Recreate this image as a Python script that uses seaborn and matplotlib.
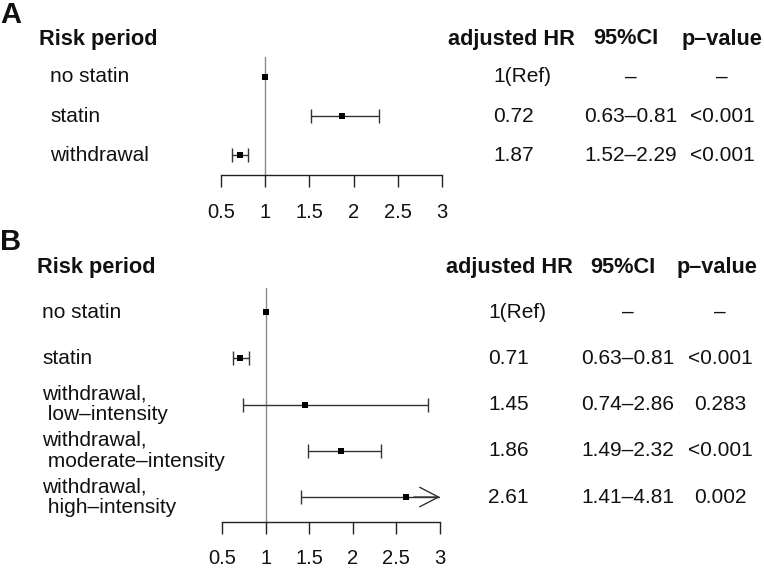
import numpy as np
import pandas as pd
import matplotlib
matplotlib.use("Agg")
import matplotlib.pyplot as plt
import seaborn as sns
from matplotlib.transforms import blended_transform_factory

# ---------------- data ----------------
# Panel A (values as drawn in the picture)
labels_a = ["no statin", "statin", "withdrawal"]
est_a = [1.00, 1.87, 0.72]
lo_a = [np.nan, 1.52, 0.63]
hi_a = [np.nan, 2.29, 0.81]
hr_a = ["1(Ref)", "0.72", "1.87"]
ci_a = ["–", "0.63–0.81", "1.52–2.29"]
p_a = ["–", "<0.001", "<0.001"]

# Panel B
labels_b = ["no statin", "statin",
            "withdrawal,\n low–intensity",
            "withdrawal,\n moderate–intensity",
            "withdrawal,\n high–intensity"]
est_b = [1.00, 0.71, 1.45, 1.86, 2.61]
lo_b = [np.nan, 0.63, 0.74, 1.49, 1.41]
hi_b = [np.nan, 0.81, 2.86, 2.32, 4.81]
hr_b = ["1(Ref)", "0.71", "1.45", "1.86", "2.61"]
ci_b = ["–", "0.63–0.81", "0.74–2.86", "1.49–2.32", "1.41–4.81"]
p_b = ["–", "<0.001", "0.283", "<0.001", "0.002"]

tick_vals = [0.5, 1, 1.5, 2, 2.5, 3]
tick_labels = ["0.5", "1", "1.5", "2", "2.5", "3"]
headers = ["Risk period", "adjusted HR", "95%CI", "p–value"]

# ---------------- style ----------------
sns.set_theme(style="white")
plt.rcParams["font.family"] = ["Liberation Sans", "DejaVu Sans"]

W, H = 764, 569
fig = plt.figure(figsize=(W / 100, H / 100), dpi=100)

XMIN, XMAX = 0.5, 3.0
FS = 15
HFS = 15.7


def add_axes_px(x0, ytop, x1, ybot):
    return fig.add_axes([x0 / W, 1 - ybot / H, (x1 - x0) / W, (ybot - ytop) / H])


def panel(ax, letter, letter_y, header_y, labels, est, lo, hi, hr, ci, pv,
          pad_top, pad_bot, lab_x, head_x, hr_x, ci_x, p_x, hhr_x, hci_x, hp_x):
    n = len(labels)
    df = pd.DataFrame({"row": np.arange(n), "est": est, "lo": lo, "hi": hi})
    ax.axvline(1, color="#8a8a8a", lw=1.0, zorder=1)
    ci_df = df.dropna()
    hi_clip = np.minimum(ci_df["hi"].values, XMAX)
    ax.hlines(ci_df["row"], ci_df["lo"], hi_clip, color="#333333", lw=1.0, zorder=2)
    ax.plot(ci_df["lo"], ci_df["row"], ls="none", marker="|", ms=10, mew=1.0,
            color="#333333", zorder=2)
    inside = ci_df[ci_df["hi"] <= XMAX]
    ax.plot(inside["hi"], inside["row"], ls="none", marker="|", ms=10, mew=1.0,
            color="#333333", zorder=2)
    over = ci_df[ci_df["hi"] > XMAX]
    for _, r in over.iterrows():
        ax.annotate("", xy=(XMAX, r["row"]), xytext=(XMAX - 0.3, r["row"]),
                    arrowprops=dict(arrowstyle="->,head_length=1.35,head_width=0.7",
                                    color="#333333", lw=1.0, mutation_scale=10,
                                    shrinkA=0, shrinkB=0),
                    annotation_clip=False)
    sns.scatterplot(data=df, x="est", y="row", marker="s", s=22, color="black",
                    edgecolor="black", linewidth=0, ax=ax, legend=False, zorder=3,
                    clip_on=False)
    ax.set_xlim(XMIN, XMAX)
    ax.set_ylim(n - 1 + pad_bot, -pad_top)
    ax.set_xlabel("")
    ax.set_ylabel("")
    ax.set_yticks([])
    ax.set_xticks(tick_vals)
    ax.set_xticklabels(tick_labels)
    for s in ["top", "left", "right"]:
        ax.spines[s].set_visible(False)
    ax.spines["bottom"].set_color("#222222")
    ax.spines["bottom"].set_linewidth(1.0)
    ax.tick_params(axis="x", bottom=True, direction="out", length=8.8, width=1.0,
                   pad=11, labelsize=14.5, colors="#222222", labelcolor="#111111")
    ax.patch.set_alpha(0)

    tr = blended_transform_factory(fig.transFigure, ax.transData)
    for i in range(n):
        fig.text(lab_x / W, i, labels[i], transform=tr, ha="left", va="center",
                 fontsize=FS, linespacing=1.12, color="#111111")
        fig.text(hr_x / W, i, hr[i], transform=tr, ha="left", va="center",
                 fontsize=FS, color="#111111")
        fig.text(ci_x / W, i, ci[i], transform=tr, ha="center", va="center",
                 fontsize=FS, color="#111111")
        fig.text(p_x / W, i, pv[i], transform=tr, ha="center", va="center",
                 fontsize=FS, color="#111111")
    hy = 1 - header_y / H
    fig.text(head_x / W, hy, headers[0], ha="left", va="center", fontsize=HFS,
             fontweight="bold", color="#111111")
    fig.text(hhr_x / W, hy, headers[1], ha="left", va="center", fontsize=HFS,
             fontweight="bold", color="#111111")
    fig.text(hci_x / W, hy, headers[2], ha="center", va="center", fontsize=HFS,
             fontweight="bold", color="#111111")
    fig.text(hp_x / W, hy, headers[3], ha="center", va="center", fontsize=HFS,
             fontweight="bold", color="#111111")
    fig.text(0 / W, 1 - letter_y / H, letter, ha="left", va="center", fontsize=21,
             fontweight="bold", color="#111111")


axA = add_axes_px(221, 57, 442, 175)
panel(axA, "A", 15, 39, labels_a, est_a, lo_a, hi_a, hr_a, ci_a, p_a,
      pad_top=0.51, pad_bot=0.51, lab_x=50, head_x=39, hr_x=493, ci_x=631, p_x=722,
      hhr_x=448, hci_x=626, hp_x=722)

axB = add_axes_px(222, 288, 440, 522)
panel(axB, "B", 242, 267, labels_b, est_b, lo_b, hi_b, hr_b, ci_b, p_b,
      pad_top=0.52, pad_bot=0.54, lab_x=42, head_x=37, hr_x=488, ci_x=628, p_x=720,
      hhr_x=446, hci_x=623, hp_x=717)

fig.savefig("out.png", dpi=100, facecolor="white")
